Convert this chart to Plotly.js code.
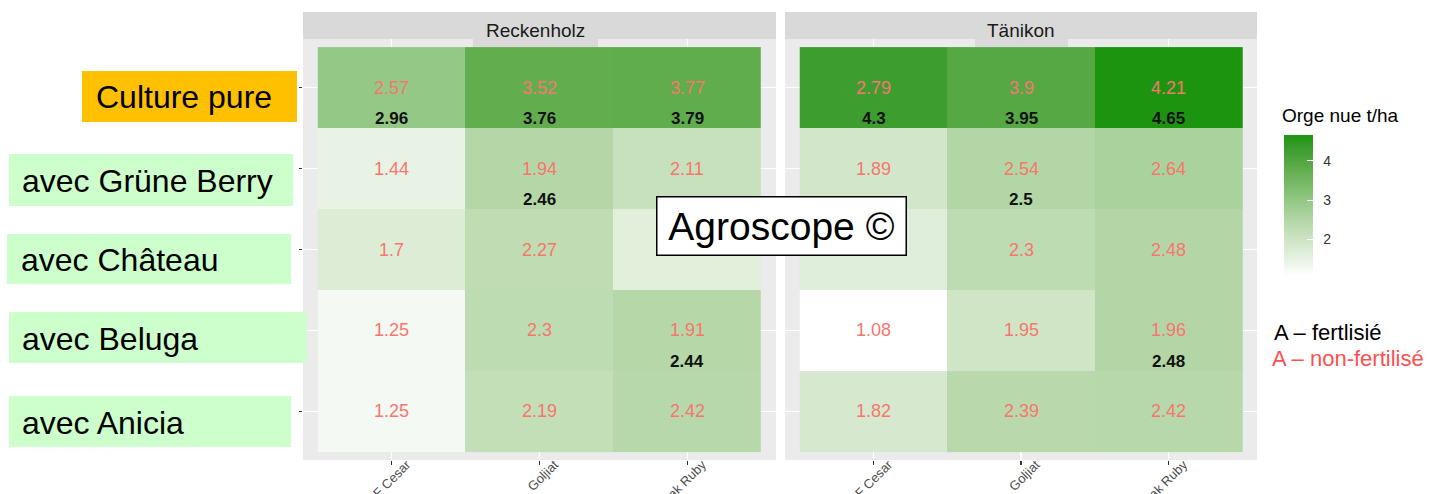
<!DOCTYPE html>
<html>
<head>
<meta charset="utf-8">
<script src="https://cdn.plot.ly/plotly-3.0.1.min.js"></script>
<style>html,body{margin:0;padding:0;background:#fff;}#chart{width:1431px;height:494px;}</style>
</head>
<body>
<div id="chart"></div>
<script>
// ---------- data ----------
const sites = ['Reckenholz', 'Tänikon'];
const varieties = ['AF Cesar', 'Goljiat', 'Oak Ruby'];
const mixtures = ['Culture pure', 'avec Grüne Berry', 'avec Château', 'avec Beluga', 'avec Anicia'];

// non-fertilised yields (red labels), rows = mixtures, cols = varieties
const reckenholzNonFert = [
  [2.57, 3.52, 3.77],
  [1.44, 1.94, 2.11],
  [1.7, 2.27, 1.6],
  [1.25, 2.3, 1.91],
  [1.25, 2.19, 2.42]
];
// fertilised yields (black labels), only where shown
const reckenholzFert = [
  [2.96, 3.76, 3.79],
  [null, 2.46, null],
  [null, null, null],
  [null, null, 2.44],
  [null, null, null]
];
const tanikonNonFert = [
  [2.79, 3.9, 4.21],
  [1.89, 2.54, 2.64],
  [1.63, 2.3, 2.48],
  [1.08, 1.95, 1.96],
  [1.82, 2.39, 2.42]
];
const tanikonFert = [
  [4.3, 3.95, 4.65],
  [null, 2.5, null],
  [null, null, null],
  [null, null, 2.48],
  [null, null, null]
];
const colorTicks = [2, 3, 4];
const legendLines = ['A – fertlisié', 'A – non-fertilisé'];
const colorTitle = 'Orge nue t/ha';
const watermark = 'Agroscope ©';

// ---------- styles ----------
const W = 1431, H = 494;
const px = x => x / W;
const py = y => (H - y) / H;
const FONT = 'Liberation Sans, Arial, sans-serif';
const RED = '#f8766d';
const panels = [
  {x0: 303, x1: 776, labelBox: [473, 598]},
  {x0: 785, x1: 1257, labelBox: [975, 1068]}
];
const panelTop = 39, panelBottom = 460, stripTop = 12;
// row label boxes (pixel geometry, style only)
const rowLabelStyle = [
  {bg: '#ffc000', x0: 82, x1: 297, y0: 71, y1: 122, tx: 94},
  {bg: '#ccffcc', x0: 9, x1: 293, y0: 154, y1: 206, tx: 20},
  {bg: '#ccffcc', x0: 7, x1: 291, y0: 234, y1: 284, tx: 19},
  {bg: '#ccffcc', x0: 9, x1: 307, y0: 312, y1: 363, tx: 20},
  {bg: '#ccffcc', x0: 9, x1: 291, y0: 396, y1: 447, tx: 20}
];

const allVals = [];
[reckenholzNonFert, reckenholzFert, tanikonNonFert, tanikonFert].forEach(m => m.forEach(r => r.forEach(v => { if (v != null) allVals.push(v); })));
const cmin = Math.min(...allVals), cmax = Math.max(...allVals);

const colorscale = [
  [0, 'rgb(255,255,255)'],
  [0.1, 'rgb(233,243,229)'],
  [0.227, 'rgb(210,231,202)'],
  [0.387, 'rgb(181,215,168)'],
  [0.527, 'rgb(148,200,134)'],
  [0.75, 'rgb(98,174,79)'],
  [0.902, 'rgb(61,157,47)'],
  [1, 'rgb(29,148,16)']
];

const siteData = [
  {nonFert: reckenholzNonFert, fert: reckenholzFert},
  {nonFert: tanikonNonFert, fert: tanikonFert}
];

const traces = [];
const annotations = [];
const shapes = [];

siteData.forEach((sd, i) => {
  const xa = i === 0 ? 'x' : 'x2';
  const ya = i === 0 ? 'y' : 'y2';
  const fill = sd.nonFert.map((row, r) => row.map((v, c) => sd.fert[r][c] != null ? sd.fert[r][c] : v));
  traces.push({
    type: 'heatmap', x: varieties, y: mixtures, z: fill,
    coloraxis: 'coloraxis', xaxis: xa, yaxis: ya, hoverinfo: 'skip', xgap: 0, ygap: 0
  });
  sd.nonFert.forEach((row, r) => row.forEach((v, c) => {
    annotations.push({
      xref: xa, yref: ya, x: varieties[c], y: mixtures[r], text: String(v),
      showarrow: false, font: {family: FONT, size: 18, color: RED}
    });
    const f = sd.fert[r][c];
    if (f != null) {
      annotations.push({
        xref: xa, yref: ya, x: varieties[c], y: mixtures[r], text: '<b>' + f + '</b>',
        showarrow: false, yshift: -31, font: {family: FONT, size: 17, color: '#111'}
      });
    }
  }));
  // strip
  const p = panels[i];
  shapes.push({type: 'rect', xref: 'paper', yref: 'paper', x0: px(p.x0), x1: px(p.x1), y0: py(panelTop), y1: py(stripTop),
    fillcolor: '#d9d9d9', line: {width: 0}, layer: 'above'});
  shapes.push({type: 'rect', xref: 'paper', yref: 'paper', x0: px(p.labelBox[0]), x1: px(p.labelBox[1]), y0: py(47), y1: py(stripTop),
    fillcolor: '#d9d9d9', line: {width: 0}, layer: 'above'});
  annotations.push({
    xref: 'paper', yref: 'paper', x: px((p.labelBox[0] + p.labelBox[1]) / 2), y: py(31), text: sites[i],
    showarrow: false, xanchor: 'center', yanchor: 'middle', font: {family: FONT, size: 19, color: '#1a1a1a'}
  });
});

// row labels
mixtures.forEach((m, r) => {
  const s = rowLabelStyle[r];
  shapes.push({type: 'rect', xref: 'paper', yref: 'paper', x0: px(s.x0), x1: px(s.x1), y0: py(s.y1), y1: py(s.y0),
    fillcolor: s.bg, line: {width: 0}});
  annotations.push({
    xref: 'paper', yref: 'paper', x: px(s.tx), y: py((s.y0 + s.y1) / 2 + 1), text: m,
    showarrow: false, xanchor: 'left', yanchor: 'middle', font: {family: FONT, size: 32, color: '#000'}
  });
});

// colourbar title
annotations.push({xref: 'paper', yref: 'paper', x: px(1280), y: py(115), text: colorTitle, showarrow: false,
  xanchor: 'left', yanchor: 'middle', font: {family: FONT, size: 19, color: '#000'}});
// fertilisation legend
annotations.push({xref: 'paper', yref: 'paper', x: px(1272), y: py(332), text: legendLines[0], showarrow: false,
  xanchor: 'left', yanchor: 'middle', font: {family: FONT, size: 22, color: '#000'}});
annotations.push({xref: 'paper', yref: 'paper', x: px(1270), y: py(359), text: legendLines[1], showarrow: false,
  xanchor: 'left', yanchor: 'middle', font: {family: FONT, size: 22, color: '#ff5050'}});
// watermark box
annotations.push({xref: 'paper', yref: 'paper', x: px(781.5), y: py(226), text: watermark, showarrow: false,
  xanchor: 'center', yanchor: 'middle', bgcolor: '#fff', bordercolor: '#000', borderwidth: 1.5, borderpad: 0,
  width: 248, height: 57, font: {family: FONT, size: 39, color: '#000'}});

const xBase = {
  type: 'category', categoryarray: varieties, range: [-0.6, 2.6],
  showgrid: true, gridcolor: '#ffffff', gridwidth: 1.4, zeroline: false, showline: false,
  ticks: 'outside', ticklen: 4, tickwidth: 1.2, tickcolor: '#333333', tickangle: -45,
  ticklabelstandoff: -13, ticklabelshift: 15,
  tickfont: {family: FONT, size: 13, color: '#4d4d4d'}, fixedrange: true
};
const yBase = {
  type: 'category', categoryarray: mixtures, range: [4.6, -0.6], domain: [py(panelBottom), py(panelTop)],
  showgrid: true, gridcolor: '#ffffff', gridwidth: 1.4, zeroline: false, showline: false,
  showticklabels: false, fixedrange: true
};

const layout = {
  width: W, height: H,
  margin: {l: 0, r: 0, t: 0, b: 0, pad: 0},
  paper_bgcolor: '#ffffff', plot_bgcolor: '#ebebeb',
  font: {family: FONT},
  showlegend: false,
  xaxis: Object.assign({}, xBase, {domain: [px(panels[0].x0), px(panels[0].x1)], anchor: 'y'}),
  yaxis: Object.assign({}, yBase, {anchor: 'x', ticks: 'outside', ticklen: 3, tickwidth: 1.2, tickcolor: '#333333'}),
  xaxis2: Object.assign({}, xBase, {domain: [px(panels[1].x0), px(panels[1].x1)], anchor: 'y2'}),
  yaxis2: Object.assign({}, yBase, {anchor: 'x2', ticks: ''}),
  coloraxis: {
    cmin: cmin, cmax: cmax, colorscale: colorscale,
    colorbar: {
      x: px(1284), xanchor: 'left', xpad: 0, ypad: 0,
      y: py(205.4), yanchor: 'middle', len: 140, lenmode: 'pixels',
      thickness: 29, thicknessmode: 'pixels', outlinewidth: 0,
      tickvals: colorTicks, ticktext: colorTicks.map(v => '\u2002' + v),
      ticks: 'inside', ticklen: 6, tickwidth: 1, tickcolor: '#ffffff',
      tickfont: {family: FONT, size: 14, color: '#333333'},
      title: {text: ''}
    }
  },
  shapes: shapes,
  annotations: annotations
};

Plotly.newPlot('chart', traces, layout, {staticPlot: true, displayModeBar: false});
</script>
</body>
</html>
